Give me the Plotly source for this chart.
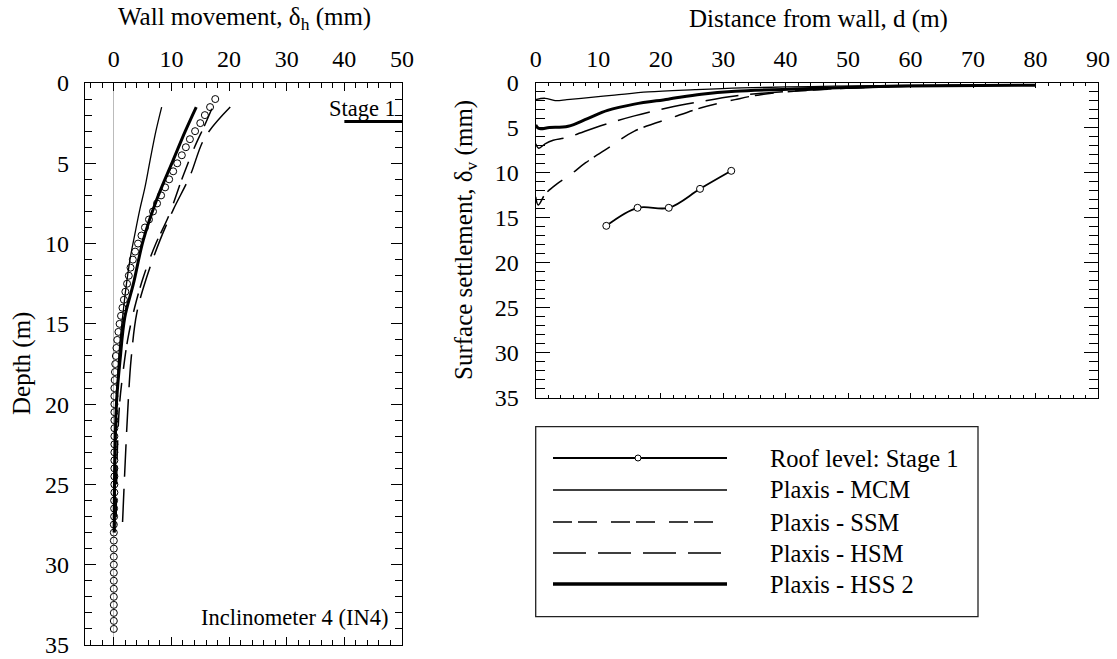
import plotly.graph_objects as go

W, H = 1117, 659
FONT = "Liberation Serif, Times New Roman, Times, serif"

# ---------------- Data: left panel (wall movement vs depth) ----------------
incl_depth = [1.0, 1.5, 2.0, 2.5, 3.0, 3.5, 4.0, 4.5, 5.0, 5.5, 6.0, 6.5, 7.0, 7.5, 8.0, 8.5,
              9.0, 9.5, 10.0, 10.5, 11.0, 11.5, 12.0, 12.5, 13.0, 13.5, 14.0, 14.5, 15.0, 15.5,
              16.0, 16.5, 17.0, 17.5, 18.0, 18.5, 19.0, 19.5, 20.0, 20.5, 21.0, 21.5, 22.0, 22.5,
              23.0, 23.5, 24.0, 24.5, 25.0, 25.5, 26.0, 26.5, 27.0, 27.5, 28.0, 28.5, 29.0, 29.5,
              30.0, 30.5, 31.0, 31.5, 32.0, 32.5, 33.0, 33.5, 34.0]
incl_disp = [17.6, 16.7, 15.8, 15.0, 14.1, 13.2, 12.5, 11.8, 11.0, 10.3, 9.6, 8.9, 8.2, 7.5, 6.8, 6.1,
             5.4, 4.8, 4.2, 3.7, 3.3, 2.9, 2.6, 2.3, 2.0, 1.75, 1.5, 1.25, 1.0, 0.8,
             0.6, 0.45, 0.35, 0.25, 0.2, 0.15, 0.1, 0.1, 0.1, 0.1, 0.1, 0.1, 0.1, 0.1,
             0.1, 0.1, 0.1, 0.1, 0.1, 0.1, 0.05, 0.05, 0.05, 0.0, 0.0, 0.0, 0.0, 0.0,
             0.0, 0.0, 0.0, 0.0, 0.0, 0.0, 0.0, 0.0, 0.0]

mcm_depth = [1.5, 3.0, 4.8, 6.5, 7.9, 9.5, 10.8, 12.5, 14.0, 16.0, 18.0, 20.0, 23.0, 28.0]
mcm_disp = [8.3, 7.3, 6.3, 5.4, 4.5, 3.6, 2.9, 2.2, 1.7, 1.1, 0.7, 0.45, 0.3, 0.2]

ssm_depth = [1.6, 2.6, 4.0, 6.0, 8.3, 10.0, 12.0, 14.0, 16.0, 18.0, 20.0, 23.0, 27.5]
ssm_disp = [17.0, 15.8, 14.0, 11.8, 9.5, 7.3, 5.2, 3.6, 2.4, 1.6, 1.0, 0.6, 0.4]

hsm_depth = [1.5, 3.4, 5.8, 7.9, 9.8, 12.1, 14.3, 17.2, 20.5, 24.2, 27.5]
hsm_disp = [20.2, 15.8, 13.2, 10.3, 8.0, 5.7, 4.0, 3.0, 2.4, 1.9, 1.5]

hss_depth = [1.5, 3.0, 4.8, 7.3, 9.8, 12.5, 14.6, 17.2, 19.7, 22.9, 28.0]
hss_disp = [14.3, 12.4, 10.3, 7.4, 5.1, 3.4, 1.9, 1.1, 0.5, 0.2, 0.05]

stage_disp = [40, 50]
stage_depth = [2.4, 2.4]

# ---------------- Data: right panel (surface settlement vs distance) ----------------
roof_dist = [11.3, 16.3, 21.3, 26.3, 31.3]
roof_settl = [15.9, 13.9, 13.9, 11.8, 9.8]

r_mcm_dist = [0, 1.5, 3.1, 5.0, 7.3, 12.6, 18.0, 25.5, 33.0, 44.0, 55.0, 65.0, 80.0]
r_mcm_settl = [1.9, 1.75, 2.0, 1.9, 1.75, 1.4, 1.05, 0.8, 0.6, 0.45, 0.35, 0.3, 0.25]

r_ssm_dist = [0, 0.4, 1.5, 3.3, 5.6, 8.0, 11.5, 15.8, 21.8, 26.5, 31.9, 36.0, 45.0, 55.0, 65.0, 80.0]
r_ssm_settl = [12.7, 13.6, 12.4, 11.3, 10.2, 8.9, 7.3, 5.4, 3.9, 2.8, 1.9, 1.35, 0.8, 0.5, 0.35, 0.3]

r_hsm_dist = [0, 0.5, 1.5, 2.8, 5.0, 10.4, 15.8, 21.2, 26.5, 31.9, 36.2, 45.0, 55.0, 65.0, 80.0]
r_hsm_settl = [6.8, 7.3, 6.8, 6.4, 6.1, 4.8, 3.7, 2.8, 2.1, 1.5, 1.2, 0.8, 0.5, 0.35, 0.3]

r_hss_dist = [0, 0.5, 2.2, 5.2, 8.3, 11.5, 15.8, 21.2, 26.5, 31.9, 42.6, 55.0, 65.0, 80.0]
r_hss_settl = [4.7, 5.1, 5.0, 4.85, 4.0, 3.1, 2.4, 1.85, 1.3, 0.97, 0.7, 0.45, 0.35, 0.3]

legend_labels = ["Roof level: Stage 1", "Plaxis - MCM", "Plaxis - SSM", "Plaxis - HSM", "Plaxis - HSS 2"]

SSM_DASH = "19px,6px,19px,14px"
HSM_DASH = "33px,12px"


def px(x):
    return x / W


def py(y):
    return 1 - y / H


fig = go.Figure()

# left panel traces
fig.add_trace(go.Scatter(x=mcm_disp, y=mcm_depth, mode="lines", line=dict(color="black", width=1.3, shape="spline"),
                         xaxis="x", yaxis="y", showlegend=False))
fig.add_trace(go.Scatter(x=ssm_disp, y=ssm_depth, mode="lines",
                         line=dict(color="black", width=1.5, dash=SSM_DASH, shape="spline"),
                         xaxis="x", yaxis="y", showlegend=False))
fig.add_trace(go.Scatter(x=hsm_disp, y=hsm_depth, mode="lines",
                         line=dict(color="black", width=1.5, dash=HSM_DASH, shape="spline"),
                         xaxis="x", yaxis="y", showlegend=False))
fig.add_trace(go.Scatter(x=hss_disp, y=hss_depth, mode="lines", line=dict(color="black", width=3, shape="spline"),
                         xaxis="x", yaxis="y", showlegend=False))
fig.add_trace(go.Scatter(x=incl_disp, y=incl_depth, mode="markers",
                         marker=dict(symbol="circle-open", size=7, color="black", line=dict(width=1)),
                         xaxis="x", yaxis="y", showlegend=False))
fig.add_trace(go.Scatter(x=stage_disp, y=stage_depth, mode="lines", line=dict(color="black", width=3),
                         xaxis="x", yaxis="y", showlegend=False, cliponaxis=False))

# right panel traces
fig.add_trace(go.Scatter(x=r_mcm_dist, y=r_mcm_settl, mode="lines",
                         line=dict(color="black", width=1.3, shape="spline"),
                         xaxis="x2", yaxis="y2", showlegend=False))
fig.add_trace(go.Scatter(x=r_ssm_dist, y=r_ssm_settl, mode="lines",
                         line=dict(color="black", width=1.5, dash=SSM_DASH, shape="spline"),
                         xaxis="x2", yaxis="y2", showlegend=False))
fig.add_trace(go.Scatter(x=r_hsm_dist, y=r_hsm_settl, mode="lines",
                         line=dict(color="black", width=1.5, dash=HSM_DASH, shape="spline"),
                         xaxis="x2", yaxis="y2", showlegend=False))
fig.add_trace(go.Scatter(x=r_hss_dist, y=r_hss_settl, mode="lines",
                         line=dict(color="black", width=3, shape="spline"),
                         xaxis="x2", yaxis="y2", showlegend=False))
fig.add_trace(go.Scatter(x=roof_dist, y=roof_settl, mode="lines+markers",
                         line=dict(color="black", width=1.8, shape="spline"),
                         marker=dict(symbol="circle", size=7, color="white", line=dict(color="black", width=1)),
                         xaxis="x2", yaxis="y2", showlegend=False))

tickfont = dict(family=FONT, size=24, color="black")
axis_common = dict(showline=True, linecolor="black", linewidth=1.3, mirror="ticks", showgrid=False,
                   ticks="inside", tickcolor="black", tickwidth=1, tickfont=tickfont, fixedrange=True,
                   automargin=False)

fig.update_layout(
    template="none",
    width=W, height=H, autosize=False,
    margin=dict(l=0, r=0, t=0, b=0, pad=0),
    paper_bgcolor="white", plot_bgcolor="white",
    font=dict(family=FONT, color="black"),
    xaxis=dict(domain=[px(85), px(402)], range=[-5, 50], side="top", anchor="y",
               tick0=0, dtick=10, ticklen=8, ticklabelstandoff=5,
               minor=dict(dtick=2, ticks="inside", ticklen=5, tickcolor="black", tickwidth=1),
               zeroline=True, zerolinecolor="#bbbbbb", zerolinewidth=1, **axis_common),
    yaxis=dict(domain=[py(645), py(83)], range=[35, 0], anchor="x",
               tick0=0, dtick=5, ticklen=11, ticklabelstandoff=10,
               minor=dict(dtick=1, ticks="inside", ticklen=7, tickcolor="black", tickwidth=1),
               zeroline=False, **axis_common),
    xaxis2=dict(domain=[px(535.7), px(1098)], range=[0, 90], side="top", anchor="y2",
                tick0=0, dtick=10, ticklen=5, ticklabelstandoff=5,
                minor=dict(dtick=2, ticks="inside", ticklen=3, tickcolor="black", tickwidth=1),
                zeroline=False, **axis_common),
    yaxis2=dict(domain=[py(398), py(82.5)], range=[35, 0], anchor="x2",
                tick0=0, dtick=5, ticklen=14, ticklabelstandoff=11,
                minor=dict(dtick=1, ticks="inside", ticklen=9, tickcolor="black", tickwidth=1),
                zeroline=False, **axis_common),
)

ann = []
ann.append(dict(text="Wall movement, δ<sub>h</sub> (mm)", x=px(244), y=py(19), xref="paper", yref="paper",
                showarrow=False, font=dict(family=FONT, size=25), xanchor="center", yanchor="middle"))
ann.append(dict(text="Distance from wall, d (m)", x=px(818), y=py(19), xref="paper", yref="paper",
                showarrow=False, font=dict(family=FONT, size=25), xanchor="center", yanchor="middle"))
ann.append(dict(text="Depth (m)", x=px(22), y=py(364), xref="paper", yref="paper", textangle=-90,
                showarrow=False, font=dict(family=FONT, size=25), xanchor="center", yanchor="middle"))
ann.append(dict(text="Surface settlement, δ<sub>v</sub> (mm)", x=px(465), y=py(240), xref="paper", yref="paper",
                textangle=-90, showarrow=False, font=dict(family=FONT, size=25), xanchor="center", yanchor="middle"))
ann.append(dict(text="Stage 1", x=px(398), y=py(108), xref="paper", yref="paper",
                showarrow=False, font=dict(family=FONT, size=22.5), xanchor="right", yanchor="middle"))
ann.append(dict(text="Inclinometer 4 (IN4)", x=px(390), y=py(617), xref="paper", yref="paper",
                showarrow=False, font=dict(family=FONT, size=22.5), xanchor="right", yanchor="middle"))

# custom legend
shapes = []
shapes.append(dict(type="rect", xref="paper", yref="paper", x0=px(535.7), x1=px(978), y0=py(616.7), y1=py(426.7),
                   line=dict(color="#222222", width=1.3), fillcolor="rgba(0,0,0,0)"))
rows = [458, 490, 522, 553, 584]
styles = [dict(width=2, dash="solid"), dict(width=1.5, dash="solid"), dict(width=1.5, dash=SSM_DASH),
          dict(width=1.5, dash=HSM_DASH), dict(width=3.5, dash="solid")]
for ry, st, lab in zip(rows, styles, legend_labels):
    shapes.append(dict(type="line", xref="paper", yref="paper", x0=px(553), x1=px(727), y0=py(ry), y1=py(ry),
                       line=dict(color="black", width=st["width"], dash=st["dash"])))
    ann.append(dict(text=lab, x=px(768), y=py(ry), xref="paper", yref="paper", showarrow=False,
                    font=dict(family=FONT, size=24.5), xanchor="left", yanchor="middle"))
shapes.append(dict(type="circle", xref="paper", yref="paper", x0=px(635), x1=px(641), y0=py(461), y1=py(455),
                   line=dict(color="black", width=1), fillcolor="white"))

fig.update_layout(annotations=ann, shapes=shapes)
fig.write_html("out.html", config={"displayModeBar": False},
               post_script="document.body.style.margin='0';")
